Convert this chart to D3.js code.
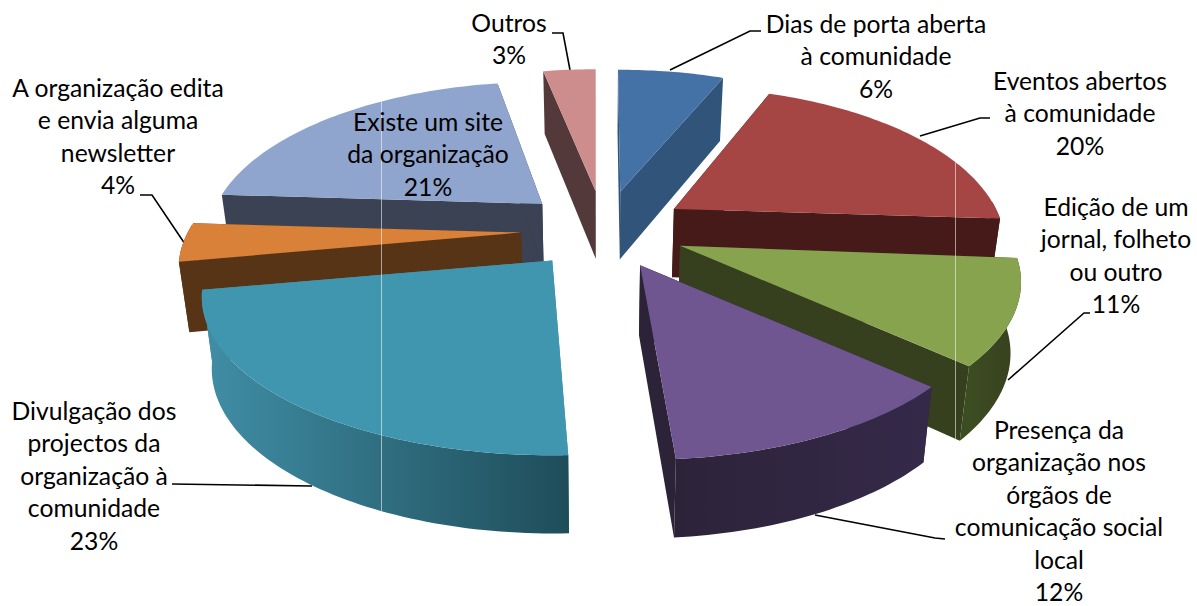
<!DOCTYPE html>
<html>
<head>
<meta charset="utf-8">
<script src="https://cdn.jsdelivr.net/npm/d3@7"></script>
<style>
  html, body { margin: 0; background: #fff; }
  text { font-family: Lato, "Open Sans", sans-serif; font-size: 24.7px; fill: #000; }
</style>
</head>
<body>
<div id="chart"></div>
<script>
const categories = [
  ["Dias de porta aberta", "à comunidade"],
  ["Eventos abertos", "à comunidade"],
  ["Edição de um", "jornal, folheto", "ou outro"],
  ["Presença da", "organização nos", "órgãos de", "comunicação social", "local"],
  ["Divulgação dos", "projectos da", "organização à", "comunidade"],
  ["A organização edita", "e envia alguma", "newsletter"],
  ["Existe um site", "da organização"],
  ["Outros"]
];
const values = [6, 20, 11, 12, 23, 4, 21, 3];

const topColors = ["#4471a6", "#a54644", "#87a34e", "#6f5690", "#4096ae", "#d98039", "#8fa5cd", "#cd8d8c"];
const cutColors = ["#31557a", "#451a18", "#363f1e", "#2d2339", "#3f8ca3", "#583417", "#3a4253", "#54393a"];
const rimFrom = ["#31557a", "#451a18", "#3d4d22", "#2d2339", "#408ea6", "#583417", "#3a4253", "#54393a"];
const rimTo = ["#31557a", "#451a18", "#363f1e", "#35294a", "#1f4d5a", "#583417", "#3a4253", "#54393a"];
// back to front
const drawOrder = [6, 7, 0, 1, 2, 3, 5, 4];

const labelX = [876, 1080, 1116, 1059, 94, 118, 428, 509];
const labelY = [33, 90, 216, 439, 420, 97, 131, 32];
const lineGap = 32.4;
const leaders = [
  [[761, 31], [750, 31], [670, 70]],
  [[990, 118], [980, 118], [920, 136]],
  [[1090, 313], [1084, 313], [1008, 380]],
  [[945, 539], [935, 538], [815, 515]],
  [[172, 484], [312, 486]],
  [[140, 195], [152, 195], [185, 244]],
  [],
  [[552, 33], [563, 33], [570, 70]]
];
const seamX = [381.5, 955.5];
// small corrections of the slice edges, degrees, [start, end]
const edgeNudge = [[-0.5, 1.5], [-0.5, 0], [1, -0.5], [0, -1.1], [1.5, 0], [0, 0], [0, 1.1], [-0.7, 0]];

const width = 1197, height = 606;
const center = { x: 604, y: 230 };
const explode = { x: 83, y: 39 };
const radius = { left: 326, right: 321, y: 150 };
const tilt = 0.23;

const svg = d3.select("#chart").append("svg")
  .attr("width", width)
  .attr("height", height)
  .style("display", "block");
const defs = svg.append("defs");

const arcs = d3.pie().sort(null).value(d => d)(values)
  .map((d, i) => ({
    ...d,
    startAngle: d.startAngle + edgeNudge[i][0] * Math.PI / 180,
    endAngle: d.endAngle + edgeNudge[i][1] * Math.PI / 180
  }));
const line = d3.line();

// apex of a slice after exploding it along its middle angle
function apexOf(d) {
  const mid = (d.startAngle + d.endAngle) / 2;
  return [center.x + explode.x * Math.sin(mid), center.y - explode.y * Math.cos(mid)];
}

// point on the upper rim, with perspective
function rimPoint(d, a) {
  const apex = apexOf(d);
  const w = 1 + tilt * Math.cos(a);
  const near = 1 + (apex[1] - 205) / 1200;
  const rx = Math.sin(a) < 0 ? radius.left : radius.right;
  return [apex[0] + near * rx * Math.sin(a) / w, apex[1] - radius.y * Math.cos(a) / w];
}

// same point pushed down on the lower face
function lower(p) {
  return [600 + (p[0] - 600) * 0.975, p[1] + 60 + 0.04 * p[1]];
}

function rimAngles(a0, a1) {
  const n = Math.max(2, Math.ceil((a1 - a0) / 0.02));
  return d3.range(n + 1).map(i => a0 + (a1 - a0) * i / n);
}

function topPath(d) {
  return line([apexOf(d), ...rimAngles(d.startAngle, d.endAngle).map(a => rimPoint(d, a))]) + "Z";
}

function cutPath(d, a) {
  const p = apexOf(d), q = rimPoint(d, a);
  return line([p, q, lower(q), lower(p)]) + "Z";
}

// only the part of the rim that faces the viewer
function rimPath(d) {
  const a0 = Math.max(d.startAngle, Math.PI / 2 - 0.05);
  const a1 = Math.min(d.endAngle, 3 * Math.PI / 2 + 0.05);
  if (a1 <= a0) return null;
  const pts = rimAngles(a0, a1).map(a => rimPoint(d, a));
  return line([...pts, ...pts.slice().reverse().map(lower)]) + "Z";
}

// leaders go under the pie so they stop at its edge
svg.append("g")
  .selectAll("path")
  .data(leaders.filter(d => d.length))
  .join("path")
  .attr("d", d => line(d))
  .attr("fill", "none")
  .attr("stroke", "#000")
  .attr("stroke-width", 1.6);

const clip = defs.append("clipPath").attr("id", "pie-clip");

const slices = svg.append("g").selectAll("g")
  .data(drawOrder)
  .join("g")
  .each(function (i) {
    const d = arcs[i], g = d3.select(this);
    g.append("path").attr("d", cutPath(d, d.startAngle)).attr("fill", cutColors[i]);
    g.append("path").attr("d", cutPath(d, d.endAngle)).attr("fill", cutColors[i]);
    clip.append("path").attr("d", topPath(d));
    clip.append("path").attr("d", cutPath(d, d.startAngle));
    clip.append("path").attr("d", cutPath(d, d.endAngle));

    const rim = rimPath(d);
    if (rim) {
      const xs = rimAngles(d.startAngle, d.endAngle).map(a => rimPoint(d, a)[0]);
      const grad = defs.append("linearGradient")
        .attr("id", `rim-${i}`)
        .attr("gradientUnits", "userSpaceOnUse")
        .attr("x1", d3.min(xs)).attr("x2", d3.max(xs))
        .attr("y1", 0).attr("y2", 0);
      grad.append("stop").attr("offset", 0).attr("stop-color", rimFrom[i]);
      grad.append("stop").attr("offset", 1).attr("stop-color", rimTo[i]);
      g.append("path").attr("d", rim).attr("fill", `url(#rim-${i})`);
      clip.append("path").attr("d", rim);
    }
    g.append("path").attr("d", topPath(d)).attr("fill", topColors[i]);
  });

// thin pale seams that run through the picture
svg.append("g")
  .attr("clip-path", "url(#pie-clip)")
  .selectAll("line")
  .data(seamX)
  .join("line")
  .attr("x1", d => d).attr("x2", d => d)
  .attr("y1", 0).attr("y2", height)
  .attr("stroke", "#fff")
  .attr("stroke-opacity", 0.55)
  .attr("stroke-width", 1);

const labels = svg.append("g")
  .selectAll("text")
  .data(categories)
  .join("text")
  .attr("text-anchor", "middle")
  .attr("y", (d, i) => labelY[i]);

labels.selectAll("tspan")
  .data((d, i) => [...d, values[i] + "%"].map(t => ({ t, x: labelX[i] })))
  .join("tspan")
  .attr("x", d => d.x)
  .attr("dy", (d, i) => i ? lineGap : 0)
  .text(d => d.t);
</script>
</body>
</html>
